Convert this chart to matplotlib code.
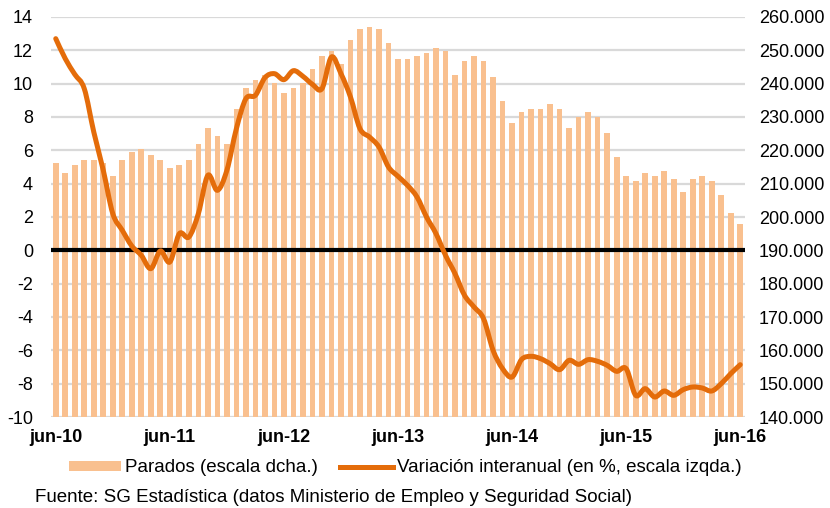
import numpy as np
import matplotlib

matplotlib.use("Agg")
import matplotlib.pyplot as plt
from matplotlib.path import Path
from matplotlib.patches import PathPatch, Patch
from matplotlib.lines import Line2D
from matplotlib.ticker import FuncFormatter

plt.rcParams["font.family"] = ["Liberation Sans", "DejaVu Sans"]
plt.rcParams["axes.unicode_minus"] = False

# monthly, jun-10 .. jun-16
parados = [
    216300, 213100, 215500, 217100, 217100, 216300, 212300, 217100, 219400, 220300,
    218700, 217100, 214700, 215500, 217100, 221900, 226700, 224300, 221900, 232300,
    238700, 241100, 242500, 240300, 237100, 238700, 240300, 244300, 248300, 249900,
    245900, 253100, 256300, 257100, 256300, 252300, 247500, 247500, 248300, 249100,
    250700, 249900, 242700, 246700, 248300, 246700, 241900, 234700, 228300, 231500,
    232300, 232300, 233900, 232300, 226700, 229900, 231500, 229900, 225100, 217900,
    212300, 210700, 213100, 212300, 213900, 211500, 207500, 211500, 212300, 210700,
    206700, 201100, 197900,
]
variacion = [
    12.7, 11.5, 10.56, 9.7, 7.1, 4.8, 2.2, 1.2, 0.26, -0.3,
    -1.1, -0.04, -0.7, 1.0, 0.8, 2.2, 4.5, 3.6, 4.8, 7.3,
    9.1, 9.3, 10.36, 10.6, 10.24, 10.78, 10.44, 9.96, 9.7, 11.6,
    10.6, 9.2, 7.3, 6.8, 6.2, 5.0, 4.44, 3.9, 3.2, 2.0,
    1.0, -0.3, -1.4, -2.7, -3.4, -4.1, -6.0, -7.1, -7.6, -6.55,
    -6.36, -6.5, -6.8, -7.16, -6.6, -6.84, -6.56, -6.66, -6.9, -7.26,
    -7.1, -8.7, -8.3, -8.8, -8.44, -8.7, -8.36, -8.2, -8.26, -8.44,
    -8.0, -7.4, -6.86,
]
tick_labels = ["jun-10", "jun-11", "jun-12", "jun-13", "jun-14", "jun-15", "jun-16"]

BAR_C = "#F9C08F"
LINE_C = "#E46C0A"
GRID_C = "#D9D9D9"
FS = 13
FS_TXT = 13.5


def smooth_path(x, y):
    """Catmull-Rom through the points, as cubic Bezier segments (Excel-like smoothing)."""
    p = np.column_stack([x, y]).astype(float)
    ext = np.vstack([p[0], p, p[-1]])
    verts = [p[0]]
    codes = [Path.MOVETO]
    for i in range(len(p) - 1):
        p0, p1, p2, p3 = ext[i], ext[i + 1], ext[i + 2], ext[i + 3]
        verts += [p1 + (p2 - p0) / 6.0, p2 - (p3 - p1) / 6.0, p2]
        codes += [Path.CURVE4] * 3
    return Path(verts, codes)


n = len(parados)
x = np.arange(n)

fig = plt.figure(figsize=(8.3, 5.08), dpi=100)
ax2 = fig.add_axes([51 / 830, 91 / 508, 694 / 830, 400 / 508])
ax = ax2.twinx()
ax.set_zorder(ax2.get_zorder() + 1)
ax.patch.set_visible(False)

# bars (right scale) with gridlines behind
ax2.set_axisbelow(True)
ax2.bar(x, parados, width=0.6, color=BAR_C, zorder=2)
ax2.set_ylim(140000, 260000)
ax2.set_yticks(np.arange(140000, 260001, 10000))
ax2.yaxis.grid(True, color=GRID_C, lw=1.6, zorder=0)
ax2.yaxis.tick_right()
ax2.yaxis.set_major_formatter(FuncFormatter(lambda v, _: f"{v:,.0f}".replace(",", ".")))

# variation line (left scale)
ax.set_ylim(-10, 14)
ax.set_yticks(np.arange(-10, 15, 2))
ax.yaxis.tick_left()
ax.axhline(0, color="black", lw=3.0, zorder=3)
ax.add_patch(PathPatch(smooth_path(x, variacion), fill=False, edgecolor=LINE_C,
                       lw=3.6, capstyle="round", joinstyle="round", zorder=4))

for a in (ax, ax2):
    a.set_xlim(-0.5, n - 0.5)
    for s in a.spines.values():
        s.set_visible(False)
    a.tick_params(axis="both", length=0, labelsize=FS, colors="black")

ax2.set_xticks(np.arange(0, n, 12))
ax2.set_xticklabels(tick_labels, fontweight="bold", fontsize=FS)
ax2.tick_params(axis="x", pad=9)
ax2.tick_params(axis="y", pad=10)
ax.tick_params(axis="y", pad=13)

handles = [Patch(facecolor=BAR_C, edgecolor="none"),
           Line2D([0], [0], color=LINE_C, lw=3.6)]
fig.legend(handles, ["Parados (escala dcha.)", "Variación interanual (en %, escala izqda.)"],
           loc="center", bbox_to_anchor=(405 / 830, 1 - 468 / 508), ncol=2, frameon=False,
           fontsize=FS_TXT, handlelength=2.8, handleheight=0.45, handletextpad=0.2,
           columnspacing=1.2)
fig.text(35 / 830, 1 - 497 / 508, "Fuente: SG Estadística (datos Ministerio de Empleo y Seguridad Social)",
         fontsize=FS_TXT, va="center", ha="left")

fig.savefig("out.png", dpi=100)
